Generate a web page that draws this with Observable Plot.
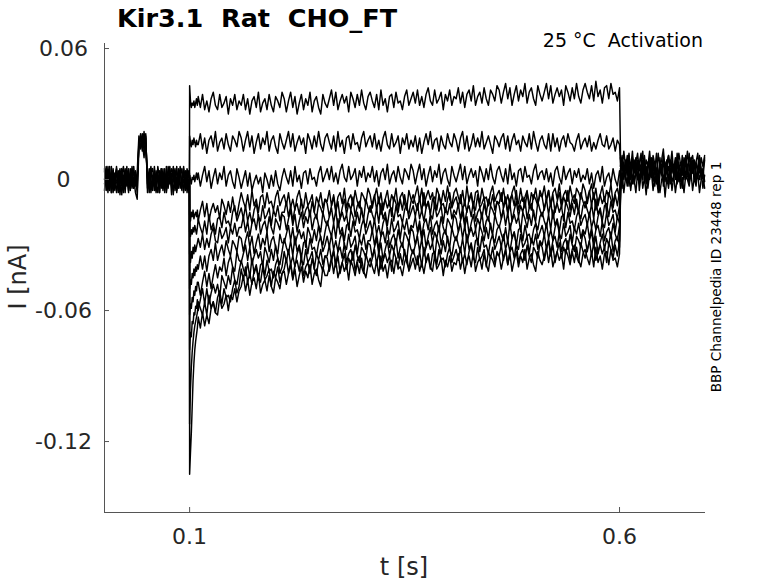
<!DOCTYPE html>
<html><head><meta charset="utf-8">
<script src="https://cdn.jsdelivr.net/npm/d3@7"></script>
<script src="https://cdn.jsdelivr.net/npm/@observablehq/plot@0.6"></script>
<style>body{margin:0;background:#fff} svg{display:block}</style>
</head><body><div id="chart"></div>
<script>
// ---- axes ----
const xTicks = [0.1, 0.6];
const yTicks = [-0.12, -0.06, 0, 0.06];
const xDomain = [0.001, 0.7];
const yDomain = [-0.1525, 0.0623];

// ---- sampling (s) ----
const preT0 = 0.001, preDt = 0.002;      // holding before step
const postT0 = 0.601, postDt = 0.002;    // after step
const onsetT0 = 0.100, onsetDt = 0.001;  // first 10 ms of step
const mainT0 = 0.110, mainDt = 0.0025;   // rest of step
const leadInT = 0.0998, leadOutT = 0.6015;

// ---- baseline sweeps before the step (pA) ----
const pre1 = [4,-5,6,-2,3,-6,1,5,-4,3,-7,0,5,-3,2,-5,6,-4,1,-6,18,14,21,16,19,-2,5,-6,2,-5,4,-1,-6,5,-3,1,-5,6,-2,3,-7,4,-2,5,-1,-5,6,-3,2,-6];
const pre2 = [-5,5,-3,6,-6,2,-1,4,-6,2,5,-4,-1,6,-5,3,-4,1,-6,-9,14,20,15,22,13,3,-6,5,-2,4,-5,6,1,-4,5,-6,3,-1,4,-7,2,-3,6,-4,2,5,-6,1,-3,4];
const pre3 = [0,6,-6,3,-3,5,-5,-1,4,-7,2,6,-3,1,-6,5,0,-4,4,-2,16,19,13,17,21,-6,3,0,-5,6,-2,-6,4,0,-4,5,-6,2,6,-3,0,5,-6,1,4,-3,0,-5,5,1];
const pre4 = [5,-2,2,-5,6,-3,3,-6,0,5,-3,2,-6,4,1,-4,5,2,-2,3,20,15,18,14,17,1,-4,3,5,-3,0,2,-6,4,-1,-4,6,-3,0,5,3,-5,1,-2,6,-4,2,4,-6,0];
const pre5 = [-2,3,-4,1,-6,4,-2,6,-5,0,3,-6,4,-1,5,-3,-2,6,-3,0,15,21,17,10,20,-4,1,6,-3,2,-6,3,-2,5,-5,2,0,-4,3,-2,6,-1,-5,3,-4,1,5,-2,4,-5];

// ---- baseline sweeps after the step (pA) ----
const post1 = [6,11,2,9,4,12,1,8,3,10,0,7,11,3,9,-2,5,10,2,8,4,12,1,6,3,9,-1,5,11,2,8,4,10,0,6,3,11,1,9,4,12,2,6,-1,8,3,10,5,1,9];
const post2 = [1,-4,6,0,8,-3,4,10,-2,3,7,-5,2,9,0,6,-4,3,8,-1,4,1,-6,2,7,-3,3,9,0,4,-5,1,6,-2,8,2,-4,4,0,7,-1,3,9,1,-3,5,0,4,-4,2];
const post3 = [10,4,13,6,2,11,5,13,3,8,12,4,7,13,2,9,6,13,4,11,7,3,12,5,9,14,4,8,11,6,13,3,9,5,12,7,2,10,6,13,4,9,11,5,8,12,3,10,6,11];
const post4 = [-3,3,-6,1,-1,4,-5,2,0,-6,3,-2,5,-4,1,-7,2,0,4,-5,1,-2,3,-6,0,2,-8,1,-4,4,-1,2,-6,0,3,-4,1,-6,2,0,-3,4,-5,1,-1,3,-6,0,2,-4];
const post5 = [5,-1,8,2,-3,7,0,10,-2,4,9,-1,6,0,11,3,-2,7,1,9,-3,5,0,10,2,-1,8,3,6,-2,9,1,5,10,-1,4,7,0,11,2,-2,6,3,9,-1,5,8,0,4,10];
const post6 = [3,8,0,5,11,1,6,-2,9,4,0,7,12,2,5,-1,8,4,10,0,6,2,-3,7,4,11,1,5,-2,9,3,7,0,12,4,-1,6,8,2,5,-2,10,3,7,0,6,11,2,5,-1];

// ---- step sweeps (pA) ----
const stepNames = ["A","B","C","D","E","F","G","H","I","J","K"];
const leadIn  = [1,-2,0,2,-1,3,-3,0,2,-1,1];
const leadOut = [2,5,0,-3,4,1,-2,6,3,-1,0];

const onsetA = [43,36,33,35,34,36,33,35,37,34];
const mainA = [
38,33,39,32,36,31,37,40,34,32,39,33,35,38,30,37,34,39,32,36,
34,39,32,37,30,36,38,33,40,31,35,37,32,39,34,31,38,36,33,40,
37,31,36,40,33,38,30,35,39,32,37,34,40,31,36,38,33,30,39,35,
33,37,41,34,40,32,36,39,35,38,31,40,37,33,39,34,41,35,32,38,
40,36,33,39,32,41,34,37,31,38,39,33,40,35,36,32,38,41,34,37,
40,35,41,34,38,33,39,42,36,34,41,35,37,40,32,39,36,41,34,38,
37,42,35,40,33,39,41,36,43,34,38,40,35,42,37,34,41,39,36,43,
41,35,40,44,37,42,34,39,43,36,41,38,44,35,40,42,37,34,43,39,
36,40,44,37,43,35,39,42,38,41,34,43,40,36,42,37,44,38,35,41,
44,40,37,43,36,45,38,41,35,42,43,37,44,39,40,36,42];

const onsetB = [20,17,15,18,16,19,17,15,18,16];
const mainB = [
16,21,14,19,12,18,20,15,22,13,17,19,14,21,16,13,20,18,15,22,
19,13,18,22,15,20,12,17,21,14,19,16,22,13,18,20,15,12,21,17,
14,18,22,15,21,13,17,20,16,19,12,21,18,14,20,15,22,16,13,19,
21,17,14,20,13,22,15,18,12,19,20,14,21,16,17,13,19,22,15,18,
20,15,21,14,18,13,19,22,16,14,21,15,17,20,12,19,16,21,14,18,
15,20,13,19,12,17,21,16,22,14,18,19,13,20,16,14,21,17,15,21,
18,13,19,22,14,20,13,16,21,15,19,15,22,14,17,20,16,12,20,18,
15,19,21,14,20,13,18,21,16,18,13,20,17,15,21,14,22,17,13,18,
20,16,14,21,13,21,15,19,13,18,20,15,21,17,16,13,18,21,14,17,
19,15,20,13,17,14,18,21,16,15,20,14,16,19,13,18,16];

const onsetC = [2,0,-2,1,0,2,-1,1,3,0];
const mainC = [
3,-3,2,6,-1,4,-4,1,5,-2,3,0,6,-3,2,4,-1,-4,5,1,
-4,0,4,-3,3,-5,-1,2,-2,1,-6,3,0,-4,2,-3,4,-2,-5,1,
5,1,-2,4,-3,6,-1,2,-4,3,4,-2,5,0,1,-3,3,6,-1,2,
5,0,6,-1,3,-2,4,7,1,-1,6,0,2,5,-3,4,1,6,-1,3,
1,6,-1,4,-3,3,5,0,7,-2,2,4,-1,6,1,-2,5,3,0,7,
4,-2,3,7,0,5,-3,2,6,-1,4,1,7,-2,3,5,0,-3,6,2,
-1,3,7,0,6,-2,2,5,1,4,-3,6,3,-1,5,0,7,1,-2,4,
6,2,-1,5,-2,7,0,3,-3,4,5,-1,6,1,2,-2,4,7,0,3,
4,0,5,-1,3,-3,4,6,1,-2,6,0,3,5,-2,4,1,5,-1,2,
0,5,-2,3,-4,2,4,-1,6,-3,1,3,-2,5,0,-3,4];

const onsetD = [-16,-19,-15,-17,-14,-18,-16,-15,-17,-14];
const mainD = [
-19,-14,-10,-17,-11,-19,-14,-11,-15,-12,-18,-9,-12,-16,-10,-15,-8,-14,-17,-11,
-6,-10,-13,-7,-14,-5,-12,-9,-15,-8,-7,-13,-6,-11,-10,-14,-8,-5,-12,-9,
-7,-12,-6,-13,-9,-14,-8,-5,-11,-13,-6,-12,-10,-7,-15,-8,-11,-6,-13,-9,
-10,-5,-12,-7,-14,-8,-6,-11,-4,-13,-9,-7,-12,-5,-10,-13,-6,-8,-11,-4,
-7,-13,-8,-4,-11,-6,-14,-9,-5,-12,-7,-10,-4,-13,-8,-6,-11,-14,-5,-9,
-11,-7,-3,-10,-4,-12,-8,-5,-9,-6,-13,-4,-7,-11,-5,-10,-3,-9,-12,-6,
-4,-8,-11,-5,-12,-3,-10,-7,-13,-6,-5,-11,-4,-9,-8,-12,-6,-3,-10,-7,
-5,-10,-4,-11,-7,-12,-6,-3,-9,-11,-4,-10,-8,-5,-13,-6,-9,-4,-11,-7,
-8,-3,-10,-5,-12,-6,-4,-9,-2,-11,-7,-5,-10,-3,-8,-11,-4,-6,-9,-2,
-5,-11,-6,-2,-9,-4,-12,-7,-3,-10,-5,-8,-2,-11,-6,-4,-9];

const onsetE = [-24,-26,-23,-25,-22,-24,-21,-23,-25,-22];
const mainE = [
-18,-22,-25,-19,-25,-16,-23,-20,-25,-18,-17,-22,-15,-20,-19,-22,-15,-12,-19,-16,
-13,-18,-12,-19,-15,-20,-14,-11,-17,-19,-12,-18,-16,-13,-21,-14,-17,-12,-19,-15,
-15,-10,-17,-12,-19,-13,-11,-16,-9,-18,-14,-12,-17,-10,-15,-18,-11,-13,-16,-9,
-11,-17,-12,-8,-15,-10,-18,-13,-9,-16,-11,-14,-8,-17,-12,-10,-15,-18,-9,-13,
-15,-11,-7,-14,-8,-16,-12,-9,-13,-10,-17,-8,-11,-15,-9,-14,-7,-13,-16,-10,
-7,-11,-14,-8,-15,-6,-13,-10,-16,-9,-8,-14,-7,-12,-11,-15,-9,-6,-13,-10,
-8,-13,-7,-14,-10,-15,-9,-6,-12,-14,-7,-13,-11,-8,-16,-9,-12,-7,-14,-10,
-11,-6,-13,-8,-15,-9,-7,-12,-5,-14,-10,-8,-13,-6,-11,-14,-7,-9,-12,-5,
-8,-14,-9,-5,-12,-7,-15,-10,-6,-13,-8,-11,-5,-14,-9,-7,-12,-15,-6,-10,
-13,-9,-5,-12,-6,-14,-10,-7,-11,-8,-15,-6,-9,-13,-7,-12,-5];

const onsetF = [-34,-38,-33,-36,-31,-34,-30,-33,-31,-29];
const mainF = [
-27,-31,-25,-32,-27,-31,-25,-22,-28,-29,-22,-27,-25,-22,-29,-22,-25,-20,-26,-22,
-22,-17,-24,-19,-26,-20,-18,-23,-16,-25,-21,-19,-24,-17,-22,-25,-18,-20,-23,-16,
-17,-23,-18,-14,-21,-16,-24,-19,-15,-22,-17,-20,-14,-23,-18,-16,-21,-24,-15,-19,
-21,-17,-13,-20,-14,-22,-18,-15,-19,-16,-23,-14,-17,-21,-15,-20,-13,-19,-22,-16,
-12,-16,-19,-13,-20,-11,-18,-15,-21,-14,-13,-19,-12,-17,-16,-20,-14,-11,-18,-15,
-12,-17,-11,-18,-14,-19,-13,-10,-16,-18,-11,-17,-15,-12,-20,-13,-16,-11,-18,-14,
-16,-11,-18,-13,-20,-14,-12,-17,-10,-19,-15,-13,-18,-11,-16,-19,-12,-14,-17,-10,
-12,-18,-13,-9,-16,-11,-19,-14,-10,-17,-12,-15,-9,-18,-13,-11,-16,-19,-10,-14,
-17,-13,-9,-16,-10,-18,-14,-11,-15,-12,-19,-10,-13,-17,-11,-16,-9,-15,-18,-12,
-10,-14,-17,-11,-18,-9,-16,-13,-19,-12,-11,-17,-10,-15,-14,-18,-12];

const onsetG = [-50,-46,-48,-43,-45,-41,-44,-40,-42,-39];
const mainG = [
-41,-35,-41,-35,-42,-35,-32,-37,-29,-37,-33,-30,-35,-28,-32,-35,-28,-30,-33,-26,
-27,-33,-28,-24,-31,-26,-34,-29,-25,-32,-27,-30,-24,-33,-28,-26,-31,-34,-25,-29,
-29,-25,-21,-28,-22,-30,-26,-23,-27,-24,-31,-22,-25,-29,-23,-28,-21,-27,-30,-24,
-19,-23,-26,-20,-27,-18,-25,-22,-28,-21,-20,-26,-19,-24,-23,-27,-21,-18,-25,-22,
-19,-24,-18,-25,-21,-26,-20,-17,-23,-25,-18,-24,-22,-19,-27,-20,-23,-18,-25,-21,
-22,-17,-24,-19,-26,-20,-18,-23,-16,-25,-21,-19,-24,-17,-22,-25,-18,-20,-23,-16,
-18,-24,-19,-15,-22,-17,-25,-20,-16,-23,-18,-21,-15,-24,-19,-17,-22,-25,-16,-20,
-22,-18,-14,-21,-15,-23,-19,-16,-20,-17,-24,-15,-18,-22,-16,-21,-14,-20,-23,-17,
-15,-19,-22,-16,-23,-14,-21,-18,-24,-17,-16,-22,-15,-20,-19,-23,-17,-14,-21,-18,
-16,-21,-15,-22,-18,-23,-17,-14,-20,-22,-15,-21,-19,-16,-24,-17,-20];

const onsetH = [-62,-57,-59,-54,-56,-51,-53,-49,-51,-47];
const mainH = [
-47,-53,-47,-42,-49,-43,-50,-44,-39,-45,-40,-42,-36,-44,-38,-35,-40,-42,-33,-37,
-38,-34,-30,-37,-31,-39,-35,-32,-36,-33,-40,-31,-34,-38,-32,-37,-30,-36,-39,-33,
-27,-31,-34,-28,-35,-26,-33,-30,-36,-29,-28,-34,-27,-32,-31,-35,-29,-26,-33,-30,
-26,-31,-25,-32,-28,-33,-27,-24,-30,-32,-25,-31,-29,-26,-34,-27,-30,-25,-32,-28,
-28,-23,-30,-25,-32,-26,-24,-29,-22,-31,-27,-25,-30,-23,-28,-31,-24,-26,-29,-22,
-24,-30,-25,-21,-28,-23,-31,-26,-22,-29,-24,-27,-21,-30,-25,-23,-28,-31,-22,-26,
-28,-24,-20,-27,-21,-29,-25,-22,-26,-23,-30,-21,-24,-28,-22,-27,-20,-26,-29,-23,
-21,-25,-28,-22,-29,-20,-27,-24,-30,-23,-22,-28,-21,-26,-25,-29,-23,-20,-27,-24,
-21,-26,-20,-27,-23,-28,-22,-19,-25,-27,-20,-26,-24,-21,-29,-22,-25,-20,-27,-23,
-25,-20,-27,-22,-29,-23,-21,-26,-19,-28,-24,-22,-27,-20,-25,-28,-21];

const onsetI = [-78,-70,-72,-65,-66,-61,-62,-58,-59,-55];
const mainI = [
-60,-55,-50,-57,-50,-57,-52,-48,-52,-48,-54,-44,-47,-50,-44,-48,-40,-46,-48,-42,
-37,-41,-44,-38,-45,-36,-43,-40,-46,-39,-38,-44,-37,-42,-41,-45,-39,-36,-43,-40,
-33,-38,-32,-39,-35,-40,-34,-31,-37,-39,-32,-38,-36,-33,-41,-34,-37,-32,-39,-35,
-35,-30,-37,-32,-39,-33,-31,-36,-29,-38,-34,-32,-37,-30,-35,-38,-31,-33,-36,-29,
-30,-36,-31,-27,-34,-29,-37,-32,-28,-35,-30,-33,-27,-36,-31,-29,-34,-37,-28,-32,
-34,-30,-26,-33,-27,-35,-31,-28,-32,-29,-36,-27,-30,-34,-28,-33,-26,-32,-35,-29,
-26,-30,-33,-27,-34,-25,-32,-29,-35,-28,-27,-33,-26,-31,-30,-34,-28,-25,-32,-29,
-26,-31,-25,-32,-28,-33,-27,-24,-30,-32,-25,-31,-29,-26,-34,-27,-30,-25,-32,-28,
-30,-25,-32,-27,-34,-28,-26,-31,-24,-33,-29,-27,-32,-25,-30,-33,-26,-28,-31,-24,
-27,-33,-28,-24,-31,-26,-34,-29,-25,-32,-27,-30,-24,-33,-28,-26,-31];

const onsetJ = [-112,-96,-86,-79,-74,-70,-67,-65,-63,-61];
const mainJ = [
-56,-59,-62,-56,-62,-53,-59,-56,-61,-54,-51,-57,-50,-54,-53,-56,-50,-46,-52,-49,
-41,-46,-40,-47,-43,-48,-42,-39,-45,-47,-40,-46,-44,-41,-49,-42,-45,-40,-47,-43,
-41,-36,-43,-38,-45,-39,-37,-42,-35,-44,-40,-38,-43,-36,-41,-44,-37,-39,-42,-35,
-36,-42,-37,-33,-40,-35,-43,-38,-34,-41,-36,-39,-33,-42,-37,-35,-40,-43,-34,-38,
-40,-36,-32,-39,-33,-41,-37,-34,-38,-35,-42,-33,-36,-40,-34,-39,-32,-38,-41,-35,
-32,-36,-39,-33,-40,-31,-38,-35,-41,-34,-33,-39,-32,-37,-36,-40,-34,-31,-38,-35,
-32,-37,-31,-38,-34,-39,-33,-30,-36,-38,-31,-37,-35,-32,-40,-33,-36,-31,-38,-34,
-35,-30,-37,-32,-39,-33,-31,-36,-29,-38,-34,-32,-37,-30,-35,-38,-31,-33,-36,-29,
-31,-37,-32,-28,-35,-30,-38,-33,-29,-36,-31,-34,-28,-37,-32,-30,-35,-38,-29,-33,
-36,-32,-28,-35,-29,-37,-33,-30,-34,-31,-38,-29,-32,-36,-30,-35,-28];

const onsetK = [-135,-125,-116,-104,-92,-84,-78,-74,-71,-68];
const mainK = [
-63,-68,-61,-67,-62,-66,-59,-56,-61,-62,-54,-59,-57,-53,-60,-53,-55,-50,-56,-51,
-49,-44,-51,-46,-53,-47,-45,-50,-43,-52,-48,-46,-51,-44,-49,-52,-45,-47,-50,-43,
-42,-48,-43,-39,-46,-41,-49,-44,-40,-47,-42,-45,-39,-48,-43,-41,-46,-49,-40,-44,
-44,-40,-36,-43,-37,-45,-41,-38,-42,-39,-46,-37,-40,-44,-38,-43,-36,-42,-45,-39,
-36,-40,-43,-37,-44,-35,-42,-39,-45,-38,-37,-43,-36,-41,-40,-44,-38,-35,-42,-39,
-36,-41,-35,-42,-38,-43,-37,-34,-40,-42,-35,-41,-39,-36,-44,-37,-40,-35,-42,-38,
-39,-34,-41,-36,-43,-37,-35,-40,-33,-42,-38,-36,-41,-34,-39,-42,-35,-37,-40,-33,
-35,-41,-36,-32,-39,-34,-42,-37,-33,-40,-35,-38,-32,-41,-36,-34,-39,-42,-33,-37,
-39,-35,-31,-38,-32,-40,-36,-33,-37,-34,-41,-32,-35,-39,-33,-38,-31,-37,-40,-34,
-32,-36,-39,-33,-40,-31,-38,-35,-41,-34,-33,-39,-32,-37,-36,-40,-34];

const onsets = [onsetA,onsetB,onsetC,onsetD,onsetE,onsetF,onsetG,onsetH,onsetI,onsetJ,onsetK];
const mains  = [mainA,mainB,mainC,mainD,mainE,mainF,mainG,mainH,mainI,mainJ,mainK];
const pres = [pre1,pre2,pre3,pre4,pre5];
const posts = [post1,post2,post3,post4,post5,post6];

// ---- build table (pA -> nA) ----
const rows = [];
pres.forEach((arr, k) => arr.forEach((v, i) => rows.push({trace: "pre" + k, t: preT0 + i * preDt, v: v / 1000})));
posts.forEach((arr, k) => arr.forEach((v, i) => rows.push({trace: "post" + k, t: postT0 + i * postDt, v: v / 1000})));
stepNames.forEach((name, k) => {
  rows.push({trace: name, t: leadInT, v: leadIn[k] / 1000});
  onsets[k].forEach((v, i) => rows.push({trace: name, t: onsetT0 + i * onsetDt, v: v / 1000}));
  mains[k].forEach((v, i) => rows.push({trace: name, t: mainT0 + i * mainDt, v: v / 1000}));
  rows.push({trace: name, t: leadOutT, v: leadOut[k] / 1000});
});

const axisColor = "#262626";
const chart = Plot.plot({
  width: 778, height: 583,
  marginLeft: 104, marginRight: 73, marginTop: 43, marginBottom: 71,
  style: {fontFamily: "DejaVu Sans", fontSize: "22px", color: axisColor, background: "#fff"},
  x: {domain: xDomain},
  y: {domain: yDomain},
  marks: [
    Plot.line(rows, {x: "t", y: "v", z: "trace", stroke: "#000", strokeWidth: 1.45}),
    Plot.ruleX([xDomain[0]], {stroke: "#555", strokeWidth: 1}),
    Plot.ruleY([yDomain[0]], {stroke: "#555", strokeWidth: 1}),
    Plot.axisX({ticks: xTicks, tickSize: -5, tickPadding: 21, stroke: "#555", fill: axisColor, fontSize: 22, label: null, tickFormat: d => String(d)}),
    Plot.axisY({ticks: yTicks, tickSize: -5, tickPadding: 46, textAnchor: "middle", stroke: "#555", fill: axisColor, fontSize: 22, label: null, tickFormat: d => d === 0 ? "0" : d.toFixed(2)})
  ]
});
document.getElementById("chart").appendChild(chart);

const svg = d3.select(chart);
svg.append("text").attr("x", 117).attr("y", 27).attr("text-anchor", "start").attr("font-family", "DejaVu Sans").attr("font-weight", "bold")
  .attr("font-size", 25.5).attr("fill", "#000").style("white-space", "pre").text("Kir3.1  Rat  CHO_FT");
svg.append("text").attr("x", 703).attr("y", 47).attr("text-anchor", "end").attr("font-family", "DejaVu Sans")
  .attr("font-size", 19).attr("fill", "#000").style("white-space", "pre").text("25 °C  Activation");
svg.append("text").attr("transform", "translate(721,277) rotate(-90)").attr("text-anchor", "middle")
  .attr("font-family", "DejaVu Sans").attr("font-size", 13.6).attr("fill", "#000").text("BBP Channelpedia ID 23448 rep 1");
svg.append("text").attr("transform", "translate(26,277) rotate(-90)").attr("text-anchor", "middle")
  .attr("font-family", "DejaVu Sans").attr("font-size", 24).attr("fill", axisColor).text("I [nA]");
svg.append("text").attr("x", 404).attr("y", 575).attr("text-anchor", "middle")
  .attr("font-family", "DejaVu Sans").attr("font-size", 24).attr("fill", axisColor).text("t [s]");
</script>
</body></html>
